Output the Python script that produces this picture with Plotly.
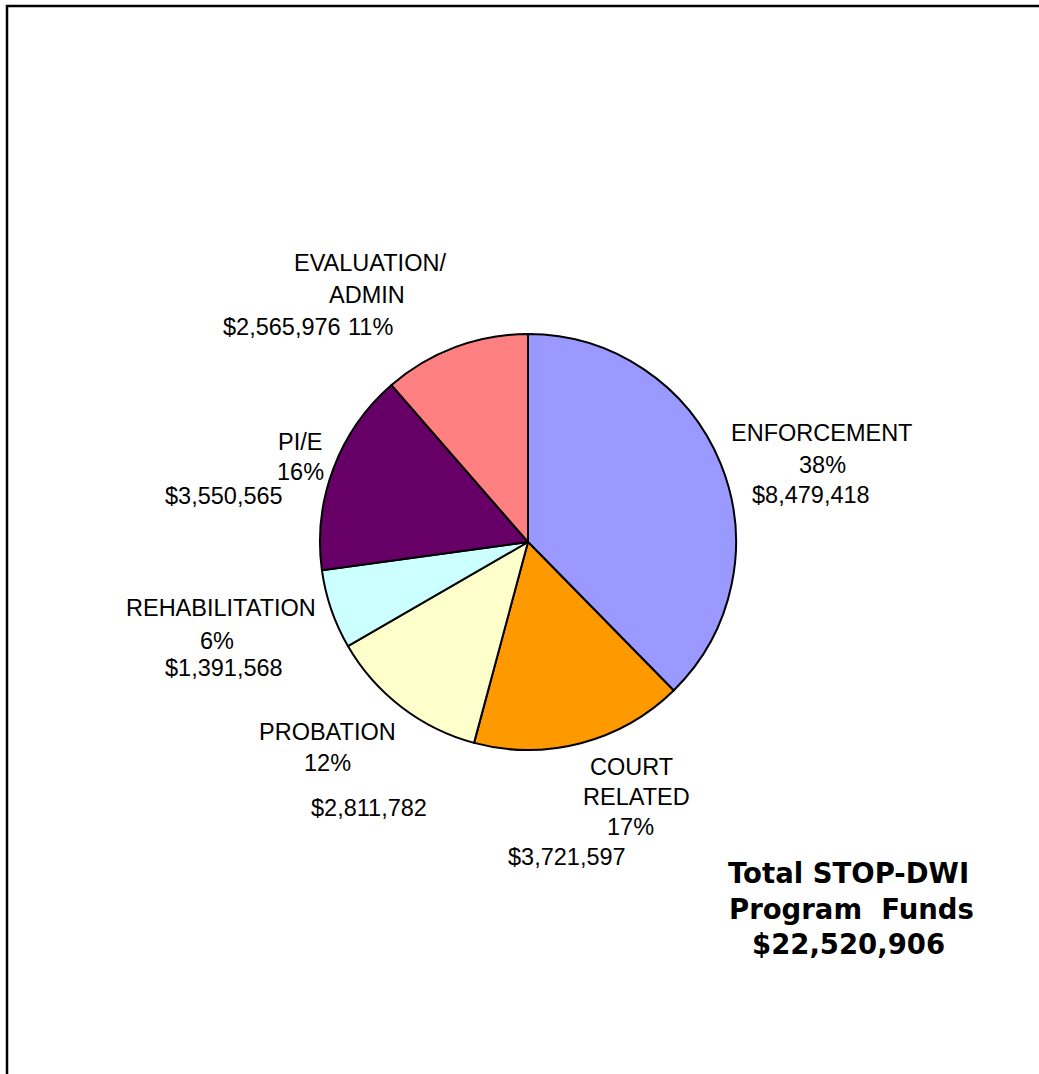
import plotly.graph_objects as go

# Program areas, clockwise from 12 o'clock
categories = ["ENFORCEMENT", "COURT RELATED", "PROBATION",
              "REHABILITATION", "PI/E", "EVALUATION/ ADMIN"]
name_lines = [["ENFORCEMENT"], ["COURT", "RELATED"], ["PROBATION"],
              ["REHABILITATION"], ["PI/E"], ["EVALUATION/", "ADMIN"]]
funds = [8479418, 3721597, 2811782, 1391568, 3550565, 2565976]
colors = ["#9999FF", "#FF9900", "#FFFFCC", "#CCFFFF", "#660066", "#FF8080"]
total_lines = ["Total STOP-DWI", "Program\u00a0 Funds"]

W, H = 1039, 1074
total = sum(funds)

# Pie placement (pixels)
cx, cy, r = 528, 542, 208

fig = go.Figure(go.Pie(
    labels=categories,
    values=funds,
    sort=False,
    direction="clockwise",
    rotation=0,
    marker=dict(colors=colors, line=dict(color="black", width=2)),
    textinfo="none",
    hoverinfo="label+value+percent",
    showlegend=False,
    domain=dict(x=[(cx - r) / W, (cx + r) / W],
                y=[1 - (cy + r) / H, 1 - (cy - r) / H]),
))

# Label line positions (pixel centres): name lines, percent, dollar amount
label_pos = [
    dict(name=[(821, 433)], pct=(822, 465), amt=(811, 495)),
    dict(name=[(631, 767), (636, 797)], pct=(630, 827), amt=(567, 857)),
    dict(name=[(327, 732)], pct=(327, 763), amt=(369, 808)),
    dict(name=[(221, 608)], pct=(217, 641), amt=(224, 668)),
    dict(name=[(300, 442)], pct=(300, 472), amt=(224, 496)),
    dict(name=[(370, 263), (367, 295)], pct=(370, 327), amt=(282, 327)),
]

label_font = dict(family="Liberation Sans, Arial, sans-serif", size=23.5, color="black")


def add_text(text, px, py, font):
    fig.add_annotation(text=text, x=px / W, y=1 - py / H, xref="paper", yref="paper",
                       xanchor="center", yanchor="middle", showarrow=False, font=font)


for lines, val, pos in zip(name_lines, funds, label_pos):
    for line, (px, py) in zip(lines, pos["name"]):
        add_text(line, px, py, label_font)
    add_text(f"{round(val / total * 100)}%", *pos["pct"], label_font)
    add_text(f"${val:,}", *pos["amt"], label_font)

# Total funds text
total_font = dict(family="DejaVu Sans, sans-serif", size=27.5, color="black", weight="bold")
for line, (px, py) in zip(total_lines + [f"${total:,}"], [(848, 873), (851, 909), (848, 944)]):
    add_text(f"<b>{line}</b>", px, py, total_font)

# Frame around the chart area
fig.add_shape(type="rect", xref="paper", yref="paper",
              x0=7 / W, x1=1.05, y0=-0.05, y1=1 - 6 / H,
              line=dict(color="black", width=2.5), fillcolor="rgba(0,0,0,0)")

fig.update_layout(
    width=W, height=H,
    margin=dict(l=0, r=0, t=0, b=0),
    paper_bgcolor="white", plot_bgcolor="white",
)

fig.write_html("out.html")
